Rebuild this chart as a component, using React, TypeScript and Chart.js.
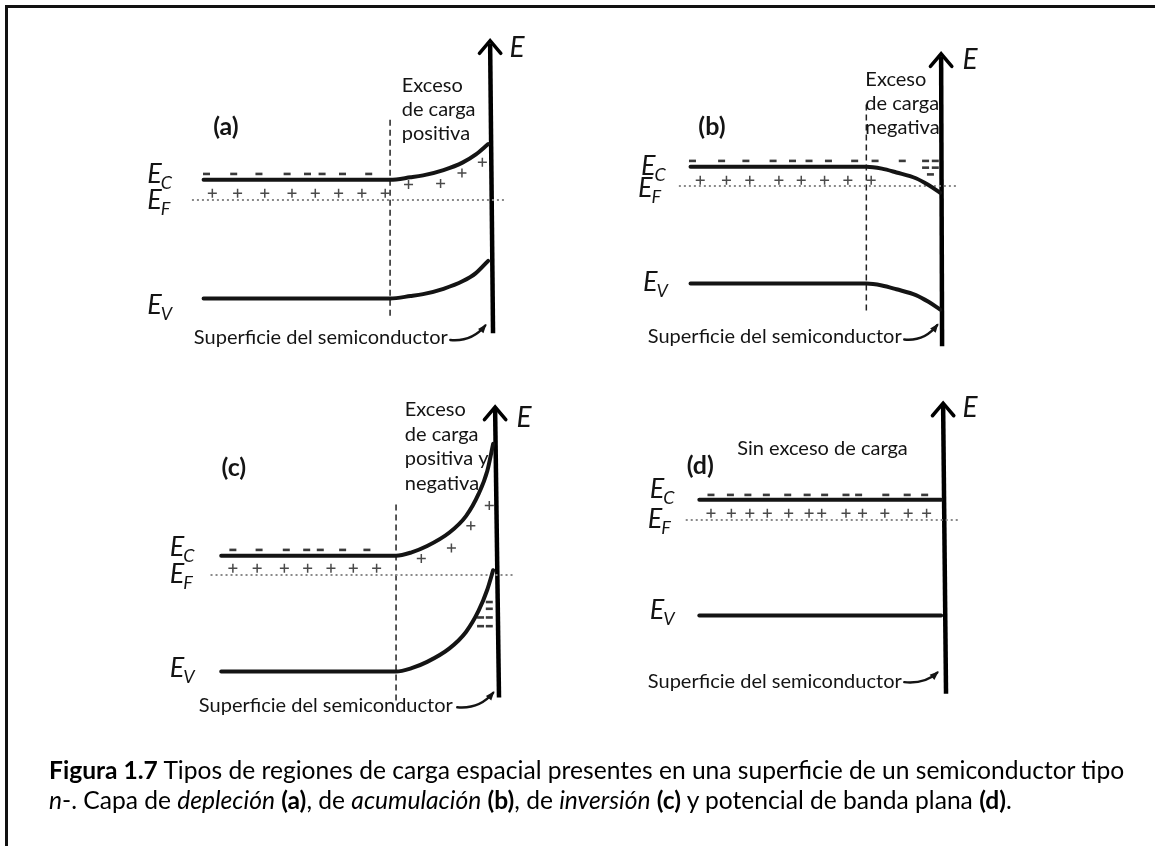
import React, { useEffect, useRef } from "react";
import { Chart, registerables } from "chart.js";

Chart.register(...registerables);

// Every panel shares one window: x = distance from the surface (surface at 0, bulk to the left),
// y = electron energy measured from the Fermi level (E_F = 0). 10 px per unit.
const X_RANGE: [number, number] = [-40, 6];
const Y_RANGE: [number, number] = [-19, 19];
const UNIT_PX = 10;

// ---------- (a) depletion ----------
const depX = [-29.5, -10.3, -8.2, -6.9, -4.8, -2.8, -1.5, -0.2];
const depEc = [2.1, 2.1, 2.35, 2.55, 3.1, 3.9, 4.7, 5.8];
const depEv = [-10.2, -10.2, -9.95, -9.75, -9.2, -8.4, -7.6, -6.3];
const depElectrons: [number, number][] = [
  [-29.2, 2.7], [-26.4, 2.7], [-23.8, 2.7], [-20.9, 2.7],
  [-18.8, 2.7], [-17.3, 2.7], [-15.2, 2.7], [-12.5, 2.7],
];
const depDonors: [number, number][] = [
  [-28.6, 0.7], [-26.0, 0.7], [-23.2, 0.7], [-20.4, 0.7], [-18.0, 0.7],
  [-15.6, 0.7], [-13.2, 0.7], [-10.8, 0.7],
  [-8.4, 1.6], [-5.1, 1.7], [-2.9, 2.8], [-0.8, 3.9],
];
const depNote = ["Exceso", "de carga", "positiva"];

// ---------- (b) accumulation ----------
const accX = [-25.8, -7.7, -6.1, -4.6, -2.6, -1.3, -0.1];
const accEc = [2.0, 2.0, 1.8, 1.4, 0.8, 0.1, -0.7];
const accEv = [-10.1, -10.1, -10.3, -10.7, -11.3, -12.0, -12.8];
const accElectrons: [number, number][] = [
  [-25.6, 2.6], [-22.6, 2.6], [-20.1, 2.6], [-17.3, 2.6], [-15.3, 2.6], [-13.6, 2.6],
  [-11.6, 2.6], [-8.9, 2.6], [-6.8, 2.6], [-4.0, 2.6], [-1.6, 2.6], [-0.6, 2.6],
  [-1.6, 1.9], [-0.6, 1.9], [-1.1, 1.2],
];
const accDonors: [number, number][] = [
  [-24.8, 0.6], [-22.1, 0.6], [-19.7, 0.6], [-16.7, 0.6],
  [-14.4, 0.6], [-12.0, 0.6], [-9.6, 0.6], [-7.2, 0.6],
];
const accNote = ["Exceso", "de carga", "negativa"];

// ---------- (c) inversion ----------
const invX = [-28.2, -10.2, -8.6, -7.0, -4.7, -3.0, -1.7, -0.8, -0.2];
const invEc = [2.0, 2.0, 2.35, 3.0, 4.4, 6.1, 8.4, 10.8, 13.6];
const invEv = [-10.0, -10.0, -9.65, -9.0, -7.6, -5.9, -3.7, -1.5, 0.5];
const invElectrons: [number, number][] = [
  [-27.0, 2.6], [-24.3, 2.6], [-21.5, 2.6], [-19.4, 2.6], [-18.0, 2.6], [-15.7, 2.6], [-13.2, 2.6],
  [-0.6, -2.8], [-0.6, -3.5], [-1.5, -4.4], [-0.6, -4.4], [-1.5, -5.3], [-0.6, -5.3],
];
const invDonors: [number, number][] = [
  [-27.0, 0.7], [-24.5, 0.7], [-21.7, 0.7], [-19.3, 0.7], [-16.9, 0.7], [-14.6, 0.7], [-12.2, 0.7],
  [-7.6, 1.7], [-4.5, 2.8], [-2.5, 5.1], [-0.6, 7.2],
];
const invNote = ["Exceso", "de carga", "positiva y", "negativa"];

// ---------- (d) flat band ----------
const flatX = [-25.1, -0.2];
const flatEc = [2.1, 2.1];
const flatEv = [-9.9, -9.9];
const flatElectrons: [number, number][] = [
  [-23.9, 2.6], [-21.9, 2.6], [-20.1, 2.6], [-18.2, 2.6], [-16.0, 2.6], [-14.0, 2.6],
  [-12.2, 2.6], [-10.0, 2.6], [-8.7, 2.6], [-5.9, 2.6], [-3.7, 2.6], [-1.9, 2.6],
];
const flatDonors: [number, number][] = [
  [-23.9, 0.7], [-21.8, 0.7], [-19.9, 0.7], [-18.1, 0.7], [-15.9, 0.7], [-13.8, 0.7],
  [-12.5, 0.7], [-10.0, 0.7], [-8.3, 0.7], [-6.0, 0.7], [-3.6, 0.7], [-1.7, 0.7],
];
const flatNote = ["Sin exceso de carga"];

const SURFACE_LABEL = "Superficie del semiconductor";
const INK = "#141414";
const FONT = "Lato, 'Open Sans', sans-serif";

type XY = [number, number];
type Panel = {
  surfacePx: number; // page x of the surface line
  fermiPx: number; // page y of the Fermi level
  bandX: number[];
  ec: number[];
  ev: number[];
  electrons: XY[];
  donors: XY[];
  fermi: XY; // x extent of the dotted Fermi line
  axis: { bottom: number; top: number; foot: number };
  divider?: { x: number; top: number; bottom: number };
  tag: string;
  tagAt: XY;
  eAt: XY;
  symbols: { sub: string; at: XY }[];
  note: string[];
  noteAt: XY;
  noteStep: number;
  surfaceAt: XY;
  hook: { from: XY; to: XY };
};

const panels: Panel[] = [
  {
    surfacePx: 495, fermiPx: 200,
    bandX: depX, ec: depEc, ev: depEv, electrons: depElectrons, donors: depDonors,
    fermi: [-30.7, 1.7],
    axis: { bottom: -13.8, top: 16.5, foot: 0.3 },
    divider: { x: -10.3, top: 8.7, bottom: -12.0 },
    tag: "(a)", tagAt: [-27.2, 7.6], eAt: [2.0, 14.8],
    symbols: [{ sub: "C", at: [-35.3, 1.8] }, { sub: "F", at: [-35.3, -0.9] }, { sub: "V", at: [-35.3, -11.8] }],
    note: depNote, noteAt: [-9.1, 11.2], noteStep: 2.5,
    surfaceAt: [-30.5, -14.9],
    hook: { from: [-4.1, -14.5], to: [-0.5, -13.0] },
  },
  {
    surfacePx: 946, fermiPx: 186,
    bandX: accX, ec: accEc, ev: accEv, electrons: accElectrons, donors: accDonors,
    fermi: [-27.0, 1.6],
    axis: { bottom: -16.6, top: 13.7, foot: 0.1 },
    divider: { x: -7.7, top: 8.6, bottom: -12.9 },
    tag: "(b)", tagAt: [-23.6, 6.1], eAt: [2.2, 12.1],
    symbols: [{ sub: "C", at: [-30.9, 1.1] }, { sub: "F", at: [-31.2, -1.1] }, { sub: "V", at: [-30.7, -10.9] }],
    note: accNote, noteAt: [-7.8, 10.4], noteStep: 2.5,
    surfaceAt: [-30.2, -16.3],
    hook: { from: [-3.8, -15.9], to: [-0.4, -14.4] },
  },
  {
    surfacePx: 500, fermiPx: 575,
    bandX: invX, ec: invEc, ev: invEv, electrons: invElectrons, donors: invDonors,
    fermi: [-29.3, 1.8],
    axis: { bottom: -12.7, top: 17.4, foot: 0.4 },
    divider: { x: -10.2, top: 7.5, bottom: -13.0 },
    tag: "(c)", tagAt: [-26.9, 11.1], eAt: [2.2, 15.3],
    symbols: [{ sub: "C", at: [-33.5, 2.0] }, { sub: "F", at: [-33.5, -0.8] }, { sub: "V", at: [-33.5, -10.6] }],
    note: invNote, noteAt: [-9.3, 16.5], noteStep: 2.57,
    surfaceAt: [-30.5, -14.2],
    hook: { from: [-3.9, -13.7], to: [-0.2, -12.2] },
  },
  {
    surfacePx: 948, fermiPx: 520,
    bandX: flatX, ec: flatEc, ev: flatEv, electrons: flatElectrons, donors: flatDonors,
    fermi: [-26.5, 1.8],
    axis: { bottom: -18.0, top: 12.1, foot: 0.3 },
    tag: "(d)", tagAt: [-25.0, 5.6], eAt: [2.0, 10.7],
    symbols: [{ sub: "C", at: [-30.2, 2.3] }, { sub: "F", at: [-30.4, -0.8] }, { sub: "V", at: [-30.2, -10.3] }],
    note: flatNote, noteAt: [-21.2, 6.7], noteStep: 2.5,
    surfaceAt: [-30.4, -17.4],
    hook: { from: [-4.0, -16.8], to: [-0.6, -15.8] },
  },
];

const CANVAS_W = (X_RANGE[1] - X_RANGE[0]) * UNIT_PX;
const CANVAS_H = (Y_RANGE[1] - Y_RANGE[0]) * UNIT_PX;

function pts(xs: number[], ys: number[]) {
  return xs.map((x, i) => ({ x, y: ys[i] }));
}

// Labels, band symbols and the small pointer arrows, placed in data coordinates.
function annotator(p: Panel) {
  return {
    id: "bandNotes",
    afterDatasetsDraw(chart: any) {
      const { ctx } = chart;
      const X = (v: number) => chart.scales.x.getPixelForValue(v);
      const Y = (v: number) => chart.scales.y.getPixelForValue(v);
      ctx.save();
      ctx.fillStyle = INK;
      ctx.strokeStyle = INK;
      ctx.textBaseline = "alphabetic";
      ctx.textAlign = "left";

      // E_C, E_F, E_V
      for (const s of p.symbols) {
        ctx.font = `italic 27px ${FONT}`;
        const x0 = X(s.at[0]);
        const y0 = Y(s.at[1]);
        ctx.fillText("E", x0, y0);
        const w = ctx.measureText("E").width;
        ctx.font = `italic 18px ${FONT}`;
        ctx.fillText(s.sub, x0 + w - 1, y0 + 6);
      }

      // axis name
      ctx.font = `italic 28px ${FONT}`;
      ctx.fillText("E", X(p.eAt[0]), Y(p.eAt[1]));

      // panel tag
      ctx.font = `bold 25px ${FONT}`;
      ctx.textAlign = "center";
      ctx.textBaseline = "middle";
      ctx.fillText(p.tag, X(p.tagAt[0]), Y(p.tagAt[1]));

      // charge note
      ctx.textAlign = "left";
      ctx.textBaseline = "alphabetic";
      ctx.font = `20px ${FONT}`;
      p.note.forEach((line, i) => {
        ctx.fillText(line, X(p.noteAt[0]), Y(p.noteAt[1] - i * p.noteStep));
      });

      // surface label + pointer
      ctx.fillText(SURFACE_LABEL, X(p.surfaceAt[0]), Y(p.surfaceAt[1]));
      const fx = X(p.hook.from[0]);
      const fy = Y(p.hook.from[1]);
      const tx = X(p.hook.to[0]);
      const ty = Y(p.hook.to[1]);
      const cx = fx + (tx - fx) * 0.62;
      const cy = fy + 2;
      ctx.lineWidth = 2.4;
      ctx.lineCap = "round";
      ctx.beginPath();
      ctx.moveTo(fx, fy);
      ctx.quadraticCurveTo(cx, cy, tx, ty);
      ctx.stroke();
      const ang = Math.atan2(ty - cy, tx - cx);
      const len = 8;
      ctx.beginPath();
      ctx.moveTo(tx + Math.cos(ang) * 2, ty + Math.sin(ang) * 2);
      ctx.lineTo(tx - Math.cos(ang - 0.45) * len, ty - Math.sin(ang - 0.45) * len);
      ctx.lineTo(tx - Math.cos(ang + 0.45) * len, ty - Math.sin(ang + 0.45) * len);
      ctx.closePath();
      ctx.fill();

      ctx.restore();
    },
  };
}

function buildConfig(p: Panel): any {
  const line = (data: any[], extra: any = {}) => ({
    data,
    showLine: true,
    pointRadius: 0,
    borderColor: INK,
    backgroundColor: INK,
    borderWidth: 4,
    borderCapStyle: "round",
    cubicInterpolationMode: "monotone",
    clip: false,
    ...extra,
  });
  const datasets: any[] = [
    line(pts(p.bandX, p.ec)),
    line(pts(p.bandX, p.ev)),
    line([{ x: p.fermi[0], y: 0 }, { x: p.fermi[1], y: 0 }], {
      borderWidth: 2, borderColor: "#8a8a8a", borderDash: [2, 3], borderCapStyle: "butt",
    }),
    line(
      [{ x: p.axis.foot, y: p.axis.bottom }, { x: 0, y: p.axis.top - 0.3 }],
      { borderWidth: 4.5, borderColor: "#000", borderCapStyle: "butt", cubicInterpolationMode: "default" }
    ),
    line(
      [{ x: -1.1, y: p.axis.top - 1.3 }, { x: 0, y: p.axis.top }, { x: 1.1, y: p.axis.top - 1.3 }],
      { borderWidth: 3.5, borderColor: "#000", borderJoinStyle: "miter", cubicInterpolationMode: "default" }
    ),
    {
      data: p.electrons.map(([x, y]) => ({ x, y })),
      showLine: false, pointStyle: "line", pointRadius: 3.5, borderWidth: 2.6,
      borderColor: "#3a3a3a", backgroundColor: "#3a3a3a", clip: false,
    },
    {
      data: p.donors.map(([x, y]) => ({ x, y })),
      showLine: false, pointStyle: "cross", pointRadius: 4.5, borderWidth: 1.5,
      borderColor: "#4a4a4a", backgroundColor: "#4a4a4a", clip: false,
    },
  ];
  if (p.divider) {
    datasets.push(
      line([{ x: p.divider.x, y: p.divider.bottom }, { x: p.divider.x, y: p.divider.top }], {
        borderWidth: 1.5, borderColor: "#222", borderDash: [6, 4], borderCapStyle: "butt",
        cubicInterpolationMode: "default",
      })
    );
  }
  return {
    type: "scatter",
    data: { datasets },
    options: {
      animation: false,
      responsive: false,
      devicePixelRatio: 1,
      events: [],
      layout: { padding: 0 },
      plugins: { legend: { display: false }, tooltip: { enabled: false } },
      scales: {
        x: { type: "linear", min: X_RANGE[0], max: X_RANGE[1], display: false },
        y: { type: "linear", min: Y_RANGE[0], max: Y_RANGE[1], display: false },
      },
    },
    plugins: [annotator(p)],
  };
}

function BandPanel({ panel }: { panel: Panel }) {
  const ref = useRef<HTMLCanvasElement | null>(null);
  useEffect(() => {
    if (!ref.current) return;
    const chart = new Chart(ref.current, buildConfig(panel));
    return () => chart.destroy();
  }, [panel]);
  const left = panel.surfacePx + X_RANGE[0] * UNIT_PX;
  const top = panel.fermiPx - Y_RANGE[1] * UNIT_PX;
  return (
    <canvas
      ref={ref}
      width={CANVAS_W}
      height={CANVAS_H}
      style={{ position: "absolute", left, top, width: CANVAS_W, height: CANVAS_H }}
    />
  );
}

export default function App() {
  const captionStyle: React.CSSProperties = {
    position: "absolute",
    left: 49,
    fontFamily: FONT,
    fontSize: 24.6,
    lineHeight: "28px",
    whiteSpace: "nowrap",
    color: "#000",
  };
  return (
    <div
      style={{
        position: "absolute", left: 0, top: 0, width: 1155, height: 846,
        overflow: "hidden", background: "#fff",
      }}
    >
      <div
        style={{
          position: "absolute", left: 5, top: 5, width: 1160, height: 860,
          borderTop: "3px solid #111", borderLeft: "3px solid #111",
        }}
      />
      {panels.map((p) => (
        <BandPanel key={p.tag} panel={p} />
      ))}
      <div style={{ ...captionStyle, top: 756 }}>
        <b>Figura 1.7</b> Tipos de regiones de carga espacial presentes en una superficie de un semiconductor tipo
      </div>
      <div style={{ ...captionStyle, top: 786 }}>
        <i>n</i>-. Capa de <i>depleción</i> <b>(a)</b>, de <i>acumulación</i> <b>(b)</b>, de <i>inversión</i>{" "}
        <b>(c)</b> y potencial de banda plana <b>(d)</b>.
      </div>
    </div>
  );
}
